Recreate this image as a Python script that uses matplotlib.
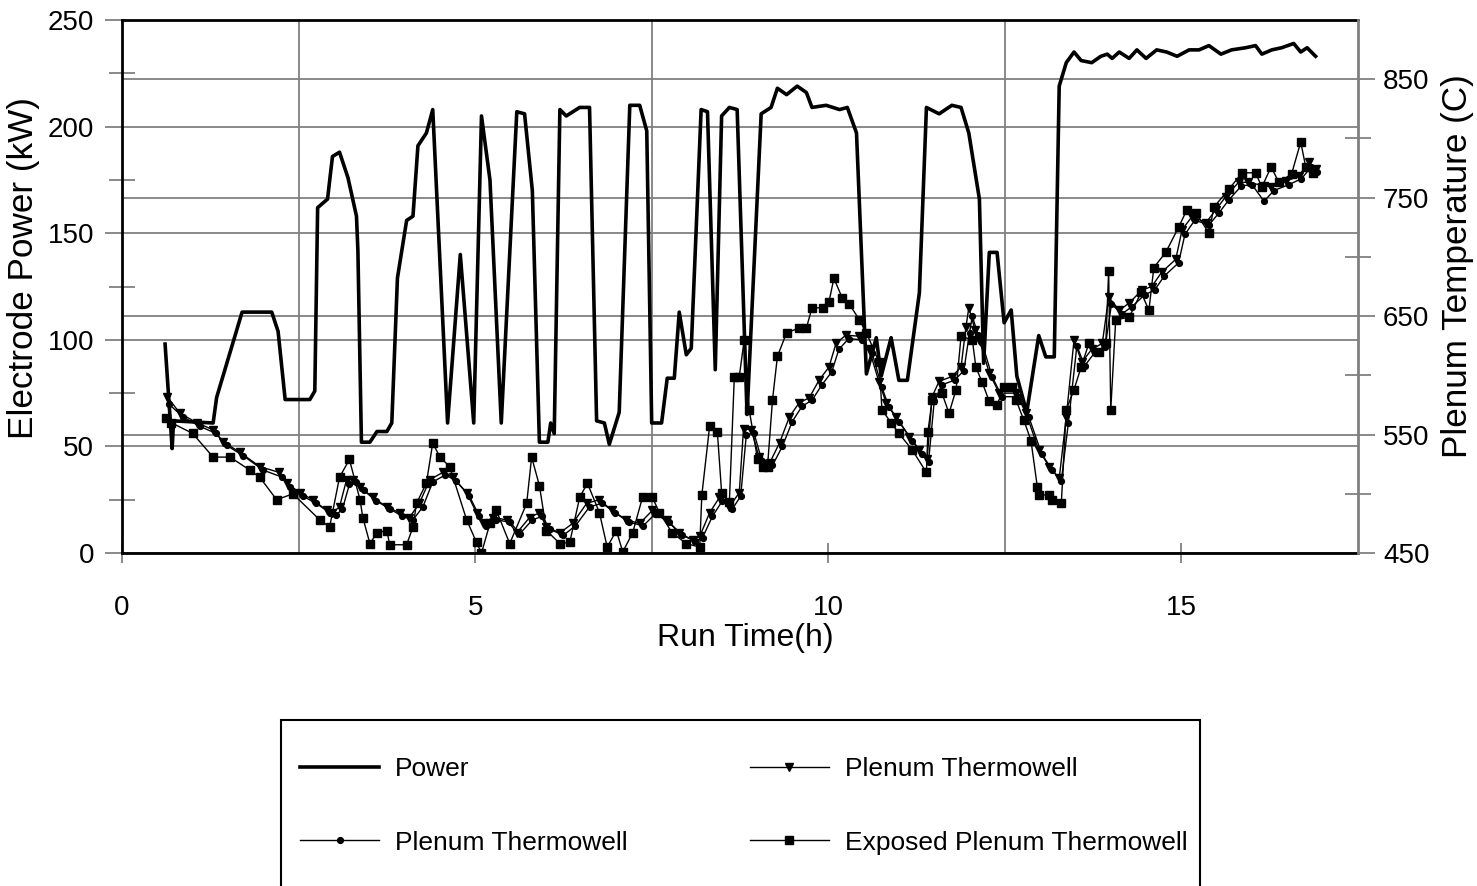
import matplotlib
matplotlib.use("Agg")
import matplotlib.pyplot as plt
from matplotlib.ticker import FixedLocator
from matplotlib.patches import Rectangle

plt.rcParams['font.family'] = ['Liberation Sans', 'DejaVu Sans']

# electrode power (kW) vs run time (h)
power_t = [0.61, 0.71, 0.73, 1.29, 1.34, 1.70, 2.12, 2.21, 2.31, 2.66, 2.73, 2.77, 2.91, 2.98, 3.08,
           3.20, 3.32, 3.34, 3.39, 3.51, 3.61, 3.75, 3.82, 3.90, 4.03, 4.12, 4.19, 4.31, 4.40, 4.61,
           4.79, 4.98, 5.09, 5.21, 5.37, 5.59, 5.70, 5.81, 5.91, 6.03, 6.07, 6.12, 6.20, 6.29, 6.48,
           6.62, 6.72, 6.83, 6.90, 7.04, 7.19, 7.33, 7.43, 7.50, 7.64, 7.72, 7.82, 7.89, 7.99, 8.06,
           8.20, 8.29, 8.40, 8.49, 8.60, 8.71, 8.85, 9.05, 9.19, 9.28, 9.41, 9.56, 9.69, 9.77, 9.97,
           10.16, 10.27, 10.40, 10.54, 10.68, 10.75, 10.89, 11.00, 11.12, 11.29, 11.39, 11.57, 11.75, 11.88, 11.99,
           12.14, 12.20, 12.28, 12.39, 12.49, 12.59, 12.67, 12.81, 12.98, 13.08, 13.20, 13.27, 13.37, 13.48, 13.58,
           13.73, 13.86, 13.95, 14.02, 14.12, 14.26, 14.37, 14.50, 14.65, 14.79, 14.94, 15.11, 15.25, 15.39, 15.56,
           15.71, 15.91, 16.05, 16.14, 16.28, 16.42, 16.59, 16.69, 16.78, 16.90]
power_kw = [98, 49, 62, 61, 73, 113, 113, 104, 72, 72, 76, 162, 166, 186, 188,
            176, 158, 142, 52, 52, 57, 57, 61, 129, 156, 158, 191, 197, 208, 61,
            140, 61, 205, 175, 61, 207, 206, 170, 52, 52, 61, 56, 208, 205, 209,
            209, 62, 61, 51, 66, 210, 210, 198, 61, 61, 82, 82, 113, 93, 96,
            208, 207, 86, 205, 209, 208, 65, 206, 209, 218, 215, 219, 216, 209, 210,
            208, 209, 197, 84, 101, 83, 101, 81, 81, 122, 209, 206, 210, 209, 197,
            166, 89, 141, 141, 108, 114, 83, 66, 102, 92, 92, 219, 230, 235, 231,
            230, 233, 234, 232, 235, 232, 236, 232, 236, 235, 233, 236, 236, 238, 234,
            236, 237, 238, 234, 236, 237, 239, 235, 237, 233]

# plenum thermowell (triangle markers), temperature in C
tw1_t = [0.64, 0.82, 1.06, 1.29, 1.43, 1.67, 1.95, 2.23, 2.33, 2.52, 2.70, 2.90, 2.98, 3.08, 3.18,
         3.27, 3.37, 3.55, 3.75, 3.93, 4.07, 4.21, 4.36, 4.54, 4.68, 4.88, 5.02, 5.11, 5.25, 5.45,
         5.59, 5.77, 5.91, 6.01, 6.20, 6.38, 6.58, 6.76, 6.94, 7.14, 7.33, 7.51, 7.71, 7.89, 8.08,
         8.18, 8.32, 8.46, 8.60, 8.74, 8.80, 8.91, 9.02, 9.17, 9.31, 9.45, 9.59, 9.73, 9.87, 10.01,
         10.11, 10.25, 10.44, 10.58, 10.72, 10.82, 10.96, 11.15, 11.29, 11.40, 11.47, 11.57, 11.75, 11.88, 11.95,
         11.99, 12.08, 12.14, 12.28, 12.42, 12.66, 12.80, 12.98, 13.13, 13.27, 13.37, 13.48, 13.59, 13.73, 13.88,
         13.97, 14.12, 14.26, 14.44, 14.58, 14.72, 14.92, 15.01, 15.15, 15.35, 15.49, 15.63, 15.81, 15.95, 16.17,
         16.27, 16.48, 16.66, 16.80, 16.90]
tw1_c = [582, 568, 560, 554, 544, 535, 523, 518, 509, 501, 495, 486, 484, 489, 512,
         512, 506, 497, 489, 484, 480, 492, 512, 518, 514, 501, 484, 475, 480, 478,
         467, 480, 484, 472, 467, 475, 492, 495, 486, 478, 475, 486, 478, 467, 461,
         464, 484, 497, 489, 501, 555, 554, 531, 526, 543, 565, 577, 581, 596, 607,
         627, 634, 633, 622, 594, 577, 565, 548, 537, 529, 582, 595, 599, 607, 641,
         657, 638, 630, 602, 585, 585, 568, 537, 523, 513, 565, 630, 611, 622, 627,
         666, 655, 661, 672, 675, 687, 698, 723, 734, 729, 740, 751, 763, 763, 760,
         759, 764, 768, 780, 774]

# plenum thermowell (circle markers)
tw2_t = [0.66, 0.86, 1.10, 1.33, 1.48, 1.72, 2.00, 2.27, 2.38, 2.56, 2.75, 2.94, 3.03, 3.12, 3.22,
         3.31, 3.42, 3.60, 3.80, 3.97, 4.12, 4.26, 4.40, 4.58, 4.73, 4.92, 5.06, 5.15, 5.30, 5.50,
         5.63, 5.81, 5.95, 6.06, 6.25, 6.42, 6.62, 6.80, 6.98, 7.18, 7.38, 7.55, 7.75, 7.93, 8.12,
         8.22, 8.36, 8.50, 8.64, 8.76, 8.84, 8.95, 9.06, 9.21, 9.35, 9.49, 9.63, 9.77, 9.91, 10.05,
         10.15, 10.29, 10.48, 10.62, 10.76, 10.86, 11.00, 11.19, 11.33, 11.42, 11.50, 11.61, 11.79, 11.92, 12.00,
         12.04, 12.12, 12.18, 12.32, 12.46, 12.70, 12.84, 13.02, 13.17, 13.30, 13.40, 13.52, 13.63, 13.77, 13.92,
         14.01, 14.16, 14.30, 14.48, 14.62, 14.76, 14.96, 15.05, 15.19, 15.39, 15.53, 15.67, 15.85, 16.00, 16.17,
         16.31, 16.52, 16.70, 16.84, 16.92]
tw2_c = [576, 565, 557, 551, 541, 532, 520, 514, 506, 498, 492, 484, 482, 487, 508,
         510, 503, 494, 487, 481, 478, 489, 510, 516, 511, 498, 481, 473, 478, 476,
         466, 478, 481, 470, 465, 473, 489, 492, 484, 476, 473, 483, 476, 465, 460,
         463, 481, 494, 487, 498, 550, 551, 528, 524, 540, 561, 574, 579, 592, 603,
         622, 631, 630, 619, 590, 573, 561, 545, 534, 527, 578, 592, 596, 604, 636,
         650, 634, 627, 599, 582, 582, 565, 534, 520, 511, 560, 625, 608, 619, 624,
         660, 652, 658, 668, 672, 684, 695, 719, 731, 727, 737, 748, 760, 761, 747,
         756, 761, 766, 776, 772]

# exposed plenum thermowell (square markers)
exp_t = [0.62, 0.70, 1.00, 1.29, 1.53, 1.81, 1.95, 2.19, 2.42, 2.80, 2.94, 3.08, 3.22, 3.37, 3.41,
         3.51, 3.61, 3.75, 3.79, 4.03, 4.12, 4.17, 4.31, 4.40, 4.50, 4.64, 4.88, 5.02, 5.09, 5.21,
         5.30, 5.49, 5.73, 5.80, 5.91, 6.01, 6.20, 6.34, 6.48, 6.59, 6.76, 6.87, 7.00, 7.09, 7.23,
         7.37, 7.51, 7.61, 7.79, 7.99, 8.18, 8.21, 8.32, 8.43, 8.49, 8.60, 8.67, 8.74, 8.81, 8.88,
         9.00, 9.07, 9.14, 9.21, 9.28, 9.41, 9.59, 9.69, 9.77, 9.92, 10.01, 10.08, 10.20, 10.30, 10.44,
         10.54, 10.72, 10.76, 10.89, 11.00, 11.19, 11.39, 11.41, 11.47, 11.61, 11.71, 11.81, 11.88, 12.04, 12.09,
         12.18, 12.28, 12.39, 12.49, 12.60, 12.66, 12.77, 12.87, 12.96, 12.98, 13.13, 13.17, 13.30, 13.37, 13.48,
         13.58, 13.69, 13.83, 13.93, 13.97, 14.00, 14.07, 14.26, 14.43, 14.54, 14.61, 14.78, 14.96, 15.08, 15.21,
         15.39, 15.46, 15.67, 15.86, 16.05, 16.14, 16.27, 16.38, 16.56, 16.69, 16.76, 16.87]
exp_c = [564, 560, 551, 531, 531, 520, 514, 495, 500, 478, 472, 514, 529, 495, 480,
         458, 467, 469, 457, 457, 472, 492, 509, 543, 531, 523, 478, 459, 450, 475,
         486, 458, 492, 531, 507, 469, 458, 459, 497, 509, 484, 455, 469, 451, 467,
         497, 497, 484, 467, 458, 455, 499, 557, 552, 501, 493, 599, 599, 630, 571,
         529, 523, 523, 579, 616, 636, 640, 640, 657, 657, 662, 682, 665, 660, 647,
         636, 611, 571, 560, 551, 537, 518, 552, 579, 585, 568, 588, 633, 630, 607,
         594, 578, 575, 590, 590, 579, 562, 545, 506, 499, 499, 495, 492, 571, 588,
         607, 627, 620, 627, 688, 571, 647, 649, 670, 655, 691, 704, 725, 740, 737,
         720, 742, 757, 771, 771, 759, 776, 763, 770, 797, 776, 771]

x_ticks = [0, 5, 10, 15]
x_grid = [2.5, 7.5, 12.5]
p_ticks = [0, 50, 100, 150, 200, 250]
p_minor = [25, 75, 125, 175, 225]
t_ticks = [450, 550, 650, 750, 850]
t_minor = [500, 600, 700, 800]
p_lim = (0, 250)
t_lim = (450, 900)

grey = '#808080'

fig = plt.figure(figsize=(14.77, 8.86), dpi=100)
ax1 = fig.add_axes([0.0826, 0.3758, 0.8368, 0.6016])
ax2 = ax1.twinx()

ln_p, = ax1.plot(power_t, power_kw, color='black', lw=2.6, label='Power', zorder=3)
ln_a, = ax2.plot(tw1_t, tw1_c, color='black', lw=1.0, marker='v', ms=6, label='Plenum Thermowell')
ln_b, = ax2.plot(tw2_t, tw2_c, color='black', lw=1.0, marker='o', ms=4.2, label='Plenum Thermowell')
ln_c, = ax2.plot(exp_t, exp_c, color='black', lw=1.0, marker='s', ms=5.3, label='Exposed Plenum Thermowell')

ax1.set_xlim(0, 17.5)
ax1.set_ylim(*p_lim)
ax2.set_ylim(*t_lim)

ax1.xaxis.set_major_locator(FixedLocator(x_ticks))
ax1.xaxis.set_minor_locator(FixedLocator(x_grid))
ax1.yaxis.set_major_locator(FixedLocator(p_ticks))
ax1.yaxis.set_minor_locator(FixedLocator(p_minor))
ax2.yaxis.set_major_locator(FixedLocator(t_ticks))
ax2.yaxis.set_minor_locator(FixedLocator(t_minor))

# grid: left-axis majors, right-axis majors, and half-way vertical lines
ax1.set_axisbelow(True)
ax1.grid(axis='y', which='major', color=grey, lw=1.3)
ax1.grid(axis='x', which='minor', color=grey, lw=1.3)
for t in t_ticks[1:]:
    p = (t - t_lim[0]) / (t_lim[1] - t_lim[0]) * (p_lim[1] - p_lim[0])
    ax1.axhline(p, color=grey, lw=1.3, zorder=0.5)

ax1.tick_params(axis='x', which='major', direction='inout', length=14, width=1.3, color=grey,
                labelsize=20, pad=23)
ax1.tick_params(axis='x', which='minor', length=0)
ax1.tick_params(axis='y', which='major', direction='out', length=12, width=1.3, color=grey,
                labelsize=20, pad=8)
ax1.tick_params(axis='y', which='minor', direction='inout', length=19, width=1.3, color=grey)
ax2.tick_params(axis='y', which='major', direction='out', length=12, width=1.3, color=grey,
                labelsize=20, pad=6)
ax2.tick_params(axis='y', which='minor', direction='inout', length=19, width=1.3, color=grey)

for s in ['left', 'top', 'bottom']:
    ax1.spines[s].set_color('black')
    ax1.spines[s].set_linewidth(2)
    ax2.spines[s].set_visible(False)
ax1.spines['right'].set_visible(False)
ax2.spines['right'].set_color(grey)
ax2.spines['right'].set_linewidth(2)

ax1.set_xlabel('Run Time(h)', fontsize=23)
ax1.set_ylabel('Electrode Power (kW)', fontsize=25.3)
ax2.set_ylabel('Plenum Temperature (C)', fontsize=25.3)
ax1.xaxis.set_label_coords(0.504, -0.132)
ax1.yaxis.set_label_coords(-0.066, 0.535)
ax2.yaxis.set_label_coords(1.067, 0.538)

# legend box runs off the bottom of the picture, as in the original
fig.add_artist(Rectangle((281 / 1477, -0.05), (1200 - 281) / 1477, 0.05 + 1 - 720 / 886,
                         transform=fig.transFigure, fill=False, edgecolor='black', lw=1.5))
leg = fig.legend(handles=[ln_p, ln_b, ln_a, ln_c], ncol=2, loc='upper left',
                 bbox_to_anchor=(300 / 1477, 1 - 757 / 886), fontsize=19, frameon=False,
                 borderpad=0, labelspacing=1.88, handlelength=3.0,
                 handletextpad=0.6, columnspacing=4.63, borderaxespad=0)

fig.savefig('out.png', dpi=100)
